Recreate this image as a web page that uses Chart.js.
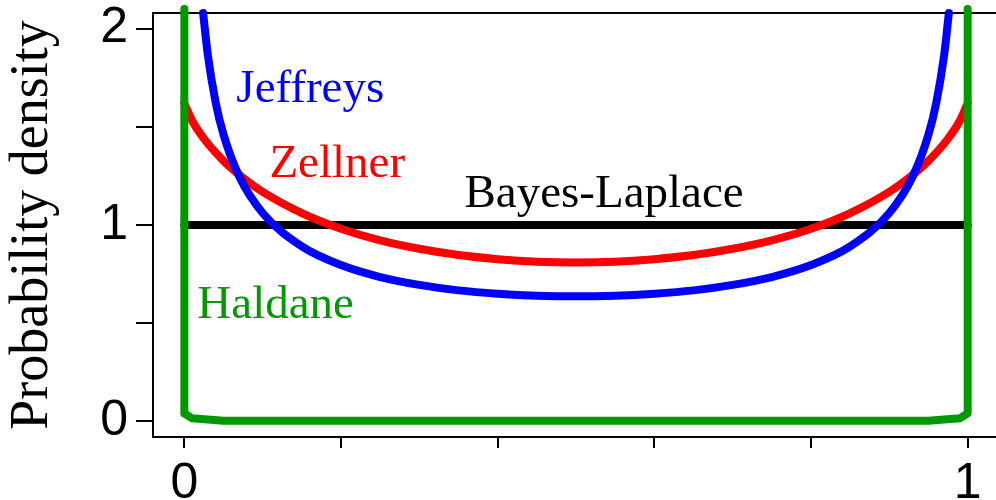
<!DOCTYPE html>
<html>
<head>
<meta charset="utf-8">
<script src="https://cdn.jsdelivr.net/npm/chart.js@4"></script>
<style>
  html, body { margin: 0; padding: 0; background: #fff; overflow: hidden; }
  #wrap { width: 1000px; height: 500px; }
</style>
</head>
<body>
<div id="wrap"><canvas id="myChart" width="1000" height="500"></canvas></div>
<script>
// Valores
const xJeffreys = [0.024, 0.03, 0.04, 0.05, 0.07, 0.1, 0.15, 0.2, 0.25, 0.3, 0.35, 0.4, 0.45, 0.5,
  0.55, 0.6, 0.65, 0.7, 0.75, 0.8, 0.85, 0.9, 0.93, 0.95, 0.96, 0.97, 0.976]
const yJeffreys = [2.08, 1.866, 1.624, 1.461, 1.248, 1.061, 0.891, 0.796, 0.735, 0.695, 0.667, 0.65, 0.64, 0.637,
  0.64, 0.65, 0.667, 0.695, 0.735, 0.796, 0.891, 1.061, 1.248, 1.461, 1.624, 1.866, 2.08]

const xZellner = [0, 0.01, 0.025, 0.05, 0.075, 0.1, 0.15, 0.2, 0.25, 0.3, 0.35, 0.4, 0.45, 0.5,
  0.55, 0.6, 0.65, 0.7, 0.75, 0.8, 0.85, 0.9, 0.925, 0.95, 0.975, 0.99, 1]
const yZellner = [1.619, 1.531, 1.44, 1.327, 1.24, 1.169, 1.061, 0.981, 0.922, 0.879, 0.847, 0.826, 0.813, 0.809,
  0.813, 0.826, 0.847, 0.879, 0.922, 0.981, 1.061, 1.169, 1.24, 1.327, 1.44, 1.531, 1.619]

const xBayes = [0, 1]
const yBayes = [1, 1]

const xHaldane = [0, 0, 0.01, 0.05, 0.95, 0.99, 1, 1]
const yHaldane = [2.1, 0.04, 0.015, 0.003, 0.003, 0.015, 0.04, 2.1]

const xTicks = [0, 0.2, 0.4, 0.6, 0.8, 1]
const yTicks = [0, 0.5, 1, 1.5, 2]
const nombres = ['Jeffreys', 'Zellner', 'Bayes-Laplace', 'Haldane']

const azul = '#0000ff'
const rojo = '#ff0000'
const negro = '#000000'
const verde = '#009900'

function pares (xs, ys) {
  return xs.map((x, i) => ({ x, y: ys[i] }))
}

// Etiquetas dentro del grafico (en coordenadas de datos)
const etiquetas = [
  { text: nombres[0], x: 0.0664, y: 1.625, color: azul },
  { text: nombres[1], x: 0.1086, y: 1.244, color: rojo },
  { text: nombres[2], x: 0.3576, y: 1.091, color: negro },
  { text: nombres[3], x: 0.0166, y: 0.527, color: verde }
]

const pluginEtiquetas = {
  id: 'etiquetas',
  afterDatasetsDraw (chart) {
    const ctx = chart.ctx
    const sx = chart.scales.x
    const sy = chart.scales.y
    ctx.save()
    ctx.font = '47px "Liberation Serif", "Times New Roman", serif'
    ctx.textAlign = 'left'
    ctx.textBaseline = 'alphabetic'
    for (const e of etiquetas) {
      ctx.fillStyle = e.color
      ctx.fillText(e.text, sx.getPixelForValue(e.x), sy.getPixelForValue(e.y))
    }
    ctx.restore()
  }
}

// Marco alrededor del area de trazado
const pluginMarco = {
  id: 'marco',
  beforeDatasetsDraw (chart) {
    const a = chart.chartArea
    const ctx = chart.ctx
    ctx.save()
    ctx.strokeStyle = '#000'
    ctx.lineWidth = 2
    ctx.strokeRect(a.left, a.top, a.right - a.left, a.bottom - a.top)
    ctx.restore()
  }
}

const linea = (label, xs, ys, color, order, tension) => ({
  label,
  data: pares(xs, ys),
  borderColor: color,
  backgroundColor: color,
  borderWidth: 8,
  pointRadius: 0,
  borderCapStyle: 'round',
  borderJoinStyle: 'round',
  cubicInterpolationMode: tension ? 'monotone' : 'default',
  tension: 0,
  clip: false,
  order
})

const config = {
  type: 'line',
  data: {
    datasets: [
      linea('Haldane', xHaldane, yHaldane, verde, 1, false),
      linea('Jeffreys', xJeffreys, yJeffreys, azul, 2, true),
      linea('Zellner', xZellner, yZellner, rojo, 3, true),
      linea('Bayes-Laplace', xBayes, yBayes, negro, 4, false)
    ]
  },
  options: {
    responsive: false,
    animation: false,
    layout: { padding: { top: 13, right: 1, left: 0, bottom: 0 } },
    plugins: { legend: { display: false }, tooltip: { enabled: false } },
    scales: {
      x: {
        type: 'linear',
        min: -0.04,
        max: 1.04,
        afterBuildTicks: (s) => { s.ticks = xTicks.map(v => ({ value: v })) },
        afterFit: (s) => {
          s.height = 63
          s.paddingLeft = 0
          s.paddingRight = 0
        },
        border: { display: false },
        grid: { drawOnChartArea: false, drawTicks: true, tickLength: 11, color: '#000', lineWidth: 2 },
        ticks: {
          color: '#000',
          padding: 6,
          maxRotation: 0,
          autoSkip: false,
          font: { family: '"Liberation Sans", Arial, sans-serif', size: 50 },
          callback: (v) => (v === 0 || v === 1) ? String(v) : ''
        }
      },
      y: {
        type: 'linear',
        min: -0.08,
        max: 2.08,
        afterBuildTicks: (s) => { s.ticks = yTicks.map(v => ({ value: v })) },
        afterFit: (s) => {
          s.width = 153
          s.paddingTop = 0
          s.paddingBottom = 0
        },
        border: { display: false },
        grid: { drawOnChartArea: false, drawTicks: true, tickLength: 17, color: '#000', lineWidth: 2 },
        ticks: {
          color: '#000',
          padding: 8,
          autoSkip: false,
          font: { family: '"Liberation Sans", Arial, sans-serif', size: 50 },
          callback: (v) => Number.isInteger(v) ? String(v) : ''
        },
        title: {
          display: true,
          text: 'Probability density',
          color: '#000',
          padding: { top: 0, bottom: 0 },
          font: { family: '"Liberation Serif", "Times New Roman", serif', size: 54, weight: 'normal' }
        }
      }
    }
  },
  plugins: [pluginMarco, pluginEtiquetas]
}

const chart = new Chart(document.getElementById('myChart'), config)
</script>
</body>
</html>
